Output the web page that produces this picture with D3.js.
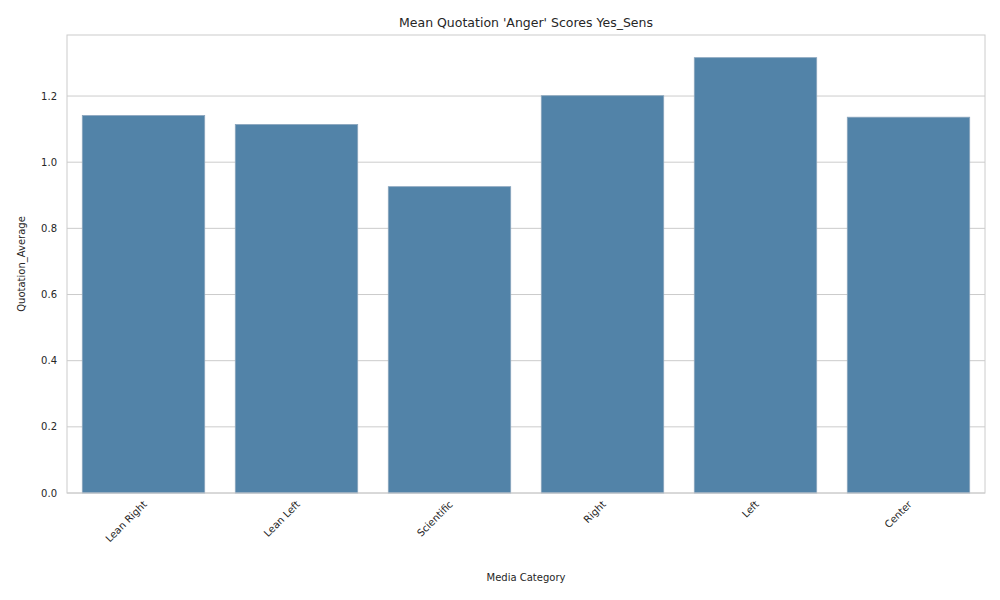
<!DOCTYPE html>
<html><head><meta charset="utf-8">
<script src="https://cdn.jsdelivr.net/npm/d3@7"></script>
<style>body{margin:0;background:#fff}text{font-family:"DejaVu Sans",sans-serif;fill:#262626}</style>
</head><body><svg id="c" width="1000" height="600"></svg>
<script>
var categories = ["Lean Right", "Lean Left", "Scientific", "Right", "Left", "Center"];
var values = [1.141, 1.114, 0.926, 1.201, 1.316, 1.136];
var ticks = [0, 0.2, 0.4, 0.6, 0.8, 1.0, 1.2];

var svg = d3.select("#c");
var m = {l: 67, r: 985, t: 35, b: 493};
var x = d3.scaleBand().domain(categories).range([m.l, m.r]).paddingInner(0.2).paddingOuter(0.1);
var y = d3.scaleLinear().domain([0, 1.3845]).range([m.b, m.t]);

// grid
svg.selectAll(".g").data(ticks).enter().append("line")
  .attr("x1", m.l).attr("x2", m.r).attr("y1", d => y(d)).attr("y2", d => y(d))
  .attr("stroke", "#cccccc").attr("stroke-width", 1);

// bars
svg.selectAll(".bar").data(values).enter().append("rect")
  .attr("x", (d, i) => x(categories[i])).attr("width", x.bandwidth())
  .attr("y", d => y(d)).attr("height", d => m.b - y(d))
  .attr("fill", "#5283a8").attr("stroke", "#8aa5bd").attr("stroke-width", 0.8);

// frame
svg.append("rect").attr("x", m.l).attr("y", m.t).attr("width", m.r - m.l).attr("height", m.b - m.t)
  .attr("fill", "none").attr("stroke", "#cccccc");

// y ticks
svg.selectAll(".yt").data(ticks).enter().append("text")
  .attr("x", m.l - 10).attr("y", d => y(d)).attr("dy", "0.35em").attr("text-anchor", "end")
  .attr("font-size", 10).text(d => d.toFixed(1));

// x ticks
svg.selectAll(".xt").data(categories).enter().append("text")
  .attr("transform", d => "translate(" + (x(d) + x.bandwidth() / 2 + 4) + "," + (m.b + 12) + ") rotate(-45)")
  .attr("text-anchor", "end").attr("font-size", 10).text(d => d);

svg.append("text").attr("x", (m.l + m.r) / 2).attr("y", 581).attr("text-anchor", "middle")
  .attr("font-size", 10).text("Media Category");
svg.append("text").attr("transform", "translate(25," + (m.t + m.b) / 2 + ") rotate(-90)")
  .attr("text-anchor", "middle").attr("font-size", 10).text("Quotation_Average");
svg.append("text").attr("x", (m.l + m.r) / 2).attr("y", 27).attr("text-anchor", "middle")
  .attr("font-size", 12.5).text("Mean Quotation 'Anger' Scores Yes_Sens");
</script></body></html>
